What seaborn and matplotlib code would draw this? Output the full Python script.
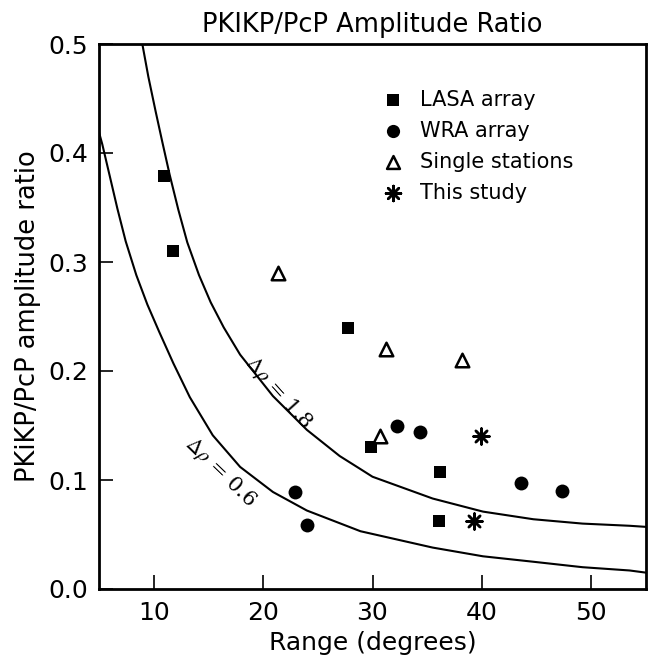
import numpy as np
import pandas as pd
import matplotlib
matplotlib.use("Agg")
import matplotlib.pyplot as plt
import seaborn as sns

# ---- data ----
lasa_x = [10.9, 11.8, 27.8, 29.9, 36.2, 36.1]
lasa_y = [0.379, 0.310, 0.239, 0.130, 0.107, 0.062]

wra_x = [22.9, 24.0, 32.2, 34.3, 43.6, 47.3]
wra_y = [0.089, 0.059, 0.150, 0.144, 0.097, 0.090]

single_x = [21.4, 31.2, 38.2, 30.7]
single_y = [0.290, 0.220, 0.210, 0.140]

study_x = [39.9, 39.3]
study_y = [0.140, 0.062]

# theoretical curves
rho18_x = [8.96, 9.51, 10.18, 10.79, 11.46, 12.25, 13.07, 14.14, 15.21, 16.4, 17.9,
           20.9, 24.0, 27.0, 28.9, 30.0, 35.5, 40.1, 44.7, 49.2, 53.5, 55.0]
rho18_y = [0.500, 0.470, 0.438, 0.410, 0.380, 0.348, 0.318, 0.288, 0.263, 0.240, 0.215,
           0.177, 0.146, 0.122, 0.110, 0.103, 0.083, 0.071, 0.064, 0.060, 0.058, 0.057]

rho06_x = [5.0, 5.3, 5.98, 6.68, 7.44, 8.41, 9.42, 10.5, 11.8, 13.3, 15.4, 17.9,
           20.9, 24.0, 28.9, 35.5, 40.1, 44.7, 49.2, 53.5, 55.0]
rho06_y = [0.419, 0.408, 0.379, 0.349, 0.319, 0.288, 0.261, 0.236, 0.207, 0.176, 0.141, 0.112,
           0.089, 0.072, 0.053, 0.038, 0.030, 0.025, 0.020, 0.017, 0.015]

x_ticks = [10, 20, 30, 40, 50]
y_ticks = [0.0, 0.1, 0.2, 0.3, 0.4, 0.5]
y_ticklabels = ["0.0", "0.1", "0.2", "0.3", "0.4", "0.5"]

# ---- plot ----
sns.set_theme(style="ticks")
plt.rcParams["font.family"] = ["DejaVu Sans"]
plt.rcParams["mathtext.fontset"] = "stix"
plt.rcParams["text.color"] = "black"
plt.rcParams["axes.labelcolor"] = "black"

fig = plt.figure(figsize=(6.5, 6.65), dpi=100)
ax = fig.add_axes([99 / 650, 1 - 589 / 665, 547 / 650, 545 / 665])

sns.lineplot(x=rho18_x, y=rho18_y, ax=ax, color="black", lw=1.5,
             sort=False, estimator=None)
sns.lineplot(x=rho06_x, y=rho06_y, ax=ax, color="black", lw=1.5,
             sort=False, estimator=None)

sns.scatterplot(x=lasa_x, y=lasa_y, ax=ax, marker="s", s=75, color="black",
                edgecolor="black", linewidth=0, label="LASA array", zorder=3)
sns.scatterplot(x=wra_x, y=wra_y, ax=ax, marker="o", s=100, color="black",
                edgecolor="black", linewidth=0, label="WRA array", zorder=3)
sns.scatterplot(x=single_x, y=single_y, ax=ax, marker="^", s=95, facecolor="white",
                edgecolor="black", linewidth=1.8, label="Single stations", zorder=3)
sns.scatterplot(x=study_x, y=study_y, ax=ax, marker=(8, 2, 0), s=130, color="black",
                edgecolor="black", linewidth=1.8, label="This study", zorder=3)

ax.text(21.4, 0.180, r"$\Delta\rho$ = 1.8", rotation=-48, ha="center", va="center",
        fontsize=15, family="DejaVu Serif", rotation_mode="anchor", color="black")
ax.text(16.1, 0.107, r"$\Delta\rho$ = 0.6", rotation=-44, ha="center", va="center",
        fontsize=15, family="DejaVu Serif", rotation_mode="anchor", color="black")

ax.set_xlim(5, 55)
ax.set_ylim(0, 0.5)
ax.set_xticks(x_ticks)
ax.set_yticks(y_ticks)
ax.set_yticklabels(y_ticklabels)
ax.tick_params(direction="in", length=10, width=1.2, labelsize=18, colors="black")
ax.tick_params(axis="x", pad=9)
ax.tick_params(axis="y", pad=8)
for sp in ax.spines.values():
    sp.set_visible(True)
    sp.set_linewidth(2)
    sp.set_color("black")

ax.set_xlabel("Range (degrees)", fontsize=18, labelpad=4, color="black")
ax.set_ylabel("PKiKP/PcP amplitude ratio", fontsize=18.5, labelpad=5, color="black")
ax.set_title("PKIKP/PcP Amplitude Ratio", fontsize=18.5, pad=9, color="black")

leg = ax.legend(loc="upper left", bbox_to_anchor=(0.518, 0.916), frameon=False,
                borderaxespad=0, borderpad=0, handlelength=1.0, handletextpad=0.8,
                labelspacing=0.53, fontsize=15, markerscale=0.95)
for t in leg.get_texts():
    t.set_color("black")

fig.savefig("out.png", dpi=100)
